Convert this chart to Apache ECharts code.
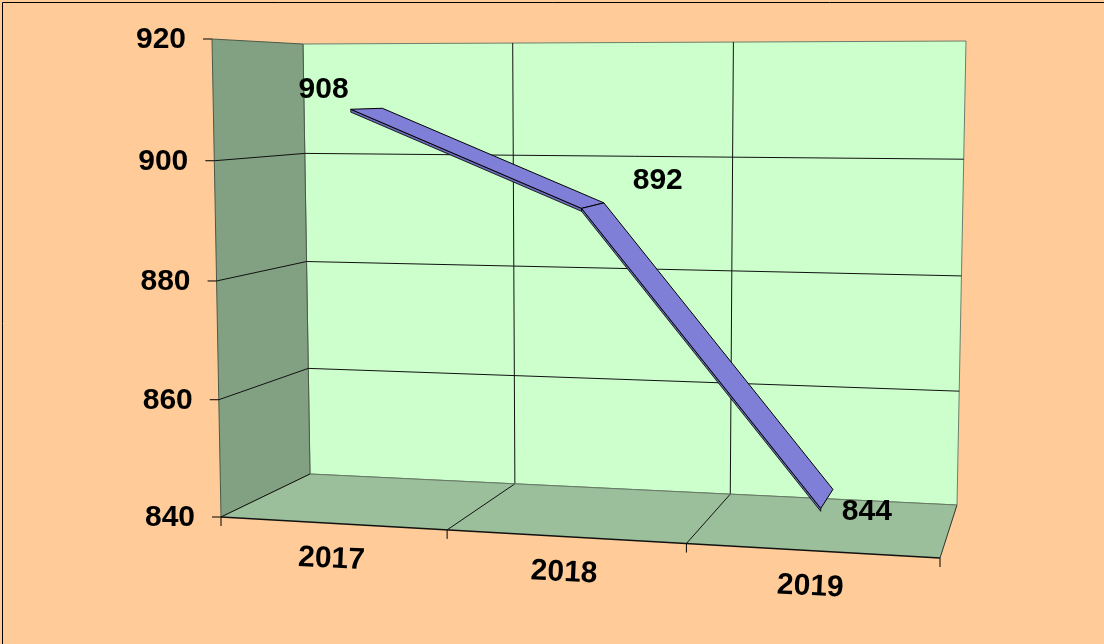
<!DOCTYPE html>
<html><head><meta charset="utf-8">
<style>html,body{margin:0;padding:0;background:#FFCC99}#c{width:1104px;height:644px}</style>
<script src="https://cdn.jsdelivr.net/npm/echarts@6/dist/echarts.min.js"></script>
</head><body><div id="c"></div>
<script>
var categories = ['2017', '2018', '2019'];
var values = [908, 892, 844];
var yTicks = [840, 860, 880, 900, 920];

// Camera: the four screen corners of the front and the back plane of the 3D box
var frontQuad = [[221,517],[940,558],[950,37],[212,39]];
var backQuad  = [[310,474],[957,505],[966,41],[303,44]];
var ribbonFront = 0.295, ribbonBack = 0.69, ribbonThick = 0.006, ribbonLift = 0.006;
var labelOffsets = [[-43,-20],[65,-26],[40,12]];
var FONT = 'bold 30px "Liberation Sans", Arial, sans-serif';

function homography(q){
  var x0=q[0][0],y0=q[0][1],x1=q[1][0],y1=q[1][1],x2=q[2][0],y2=q[2][1],x3=q[3][0],y3=q[3][1];
  var dx1=x1-x2,dx2=x3-x2,sx=x0-x1+x2-x3,dy1=y1-y2,dy2=y3-y2,sy=y0-y1+y2-y3;
  var den=dx1*dy2-dx2*dy1,g=(sx*dy2-dx2*sy)/den,h=(dx1*sy-sx*dy1)/den;
  var a=x1-x0+g*x1,b=x3-x0+h*x3,d=y1-y0+g*y1,e=y3-y0+h*y3;
  return function(u,v){var k=g*u+h*v+1;return [(a*u+b*v+x0)/k,(d*u+e*v+y0)/k];};
}
var HF=homography(frontQuad), HB=homography(backQuad);
function P(u,v,w){var f=HF(u,v),b=HB(u,v);return [f[0]+(b[0]-f[0])*w,f[1]+(b[1]-f[1])*w];}

// Read the unit-cube position of a value through the chart's own (hidden) axes
function vOf(api,cs,val){var p=api.coord([0,val]);return (p[1]-cs.y)/cs.height;}
function uOf(api,cs,i){var p=api.coord([i,yTicks[0]]);return (p[0]-cs.x)/cs.width;}

function poly(pts,fill,stroke,lw){return {type:'polygon',shape:{points:pts},style:{fill:fill,stroke:stroke||null,lineWidth:lw||0}};}
function line(a,b,color,lw){return {type:'line',shape:{x1:a[0],y1:a[1],x2:b[0],y2:b[1]},style:{stroke:color||'#000',lineWidth:lw||1,fill:null}};}
function txt(t,x,y,align,rot){return {type:'text',x:x,y:y+1,rotation:rot||0,style:{text:t,x:0,y:0,font:FONT,fill:'#000',align:align,verticalAlign:'middle'}};}

function renderBox(params,api){
  var cs=params.coordSys, ch=[];
  function V(val){return 1-vOf(api,cs,val);}
  var v0=V(yTicks[0]), v1=V(yTicks[yTicks.length-1]);
  function N(u,val,w){var v=(V(val)-v0)/(v1-v0);return P(u,v,w);}
  var lo=yTicks[0], hi=yTicks[yTicks.length-1], n=categories.length;
  ch.push(poly([N(0,lo,1),N(1,lo,1),N(1,hi,1),N(0,hi,1)],'#CCFFCC','#6d7f6d',1));
  ch.push(poly([N(0,lo,0),N(0,lo,1),N(0,hi,1),N(0,hi,0)],'#82A082','#4a5a4a',1));
  ch.push(poly([N(0,lo,0),N(1,lo,0),N(1,lo,1),N(0,lo,1)],'#9BBF9B',null,0));
  yTicks.forEach(function(t,i){
    if(i>0&&i<yTicks.length-1){
      ch.push(line(N(0,t,0),N(0,t,1),'#111',1));
      ch.push(line(N(0,t,1),N(1,t,1),'#111',1));
    }
    var a=N(0,t,0);
    ch.push(line([a[0]-9,a[1]],a,'#000',1));
    ch.push(txt(String(t),a[0]-26,a[1],'right'));
  });
  for(var k=0;k<=n;k++){
    var u=k/n, f=N(u,lo,0), b=N(u,lo,1);
    if(k>0&&k<n){ch.push(line(b,N(u,hi,1),'#111',1));}
    if(k<n){ch.push(line(f,b,'#111',1));}
    else {ch.push(line(f,b,'#333',1));}
    ch.push(line(f,[f[0],f[1]+9],'#000',1));
  }
  ch.push(line(N(0,lo,1),N(1,lo,1),'#667a66',1));
  ch.push(line(N(0,lo,0),N(1,lo,0),'#111',1.5));
  return {type:'group',children:ch};
}

function renderRibbon(params,api){
  var cs=params.coordSys, i=api.value(0), ch=[];
  if(i>=values.length-1) return {type:'group',children:[]};
  var v0=1-vOf(api,cs,yTicks[0]), v1=1-vOf(api,cs,yTicks[yTicks.length-1]);
  function N(ci,val,w,dv){return P(uOf(api,cs,ci),((1-vOf(api,cs,val))-v0)/(v1-v0)+ribbonLift-(dv||0),w);}
  var a=api.value(1), b=values[i+1];
  var af=N(i,a,ribbonFront),bf=N(i+1,b,ribbonFront),ab=N(i,a,ribbonBack),bb=N(i+1,b,ribbonBack);
  var af2=N(i,a,ribbonFront,ribbonThick),bf2=N(i+1,b,ribbonFront,ribbonThick);
  ch.push(poly([af,bf,bf2,af2],'#6a6ab8','#000',0.8));
  ch.push(poly([af,bf,bb,ab],'#7F7FD8','#000',1));
  return {type:'group',children:ch};
}

function renderLabels(params,api){
  var cs=params.coordSys, ch=[];
  var v0=1-vOf(api,cs,yTicks[0]), v1=1-vOf(api,cs,yTicks[yTicks.length-1]);
  values.forEach(function(val,i){
    var v=((1-vOf(api,cs,val))-v0)/(v1-v0)+ribbonLift, u=uOf(api,cs,i);
    var p=P(u,v,(ribbonFront+ribbonBack)/2);
    ch.push(txt(String(val),p[0]+labelOffsets[i][0],p[1]+labelOffsets[i][1],'center'));
    var c=P(u,0,0);
    ch.push(txt(categories[i],c[0]-1,c[1]+35,'center',-0.045));
  });
  return {type:'group',children:ch};
}

var chart=echarts.init(document.getElementById('c'),null,{renderer:'canvas'});
chart.setOption({
  animation:false,
  backgroundColor:'#FFCC99',
  grid:{left:0,right:0,top:0,bottom:0},
  xAxis:{type:'category',data:categories,show:false},
  yAxis:{type:'value',min:yTicks[0],max:yTicks[yTicks.length-1],interval:20,show:false},
  graphic:[{type:'rect',left:0,top:0,shape:{x:0.5,y:0.5,width:1103,height:643},style:{fill:null,stroke:'#000',lineWidth:1},silent:true,z:100}],
  series:[
    {type:'custom',coordinateSystem:'cartesian2d',data:[[0,yTicks[0]]],renderItem:renderBox,silent:true,z:1},
    {type:'custom',coordinateSystem:'cartesian2d',data:values.map(function(v,i){return [i,v];}),renderItem:renderRibbon,silent:true,z:2},
    {type:'custom',coordinateSystem:'cartesian2d',data:[[0,yTicks[0]]],renderItem:renderLabels,silent:true,z:3}
  ]
});
</script></body></html>
